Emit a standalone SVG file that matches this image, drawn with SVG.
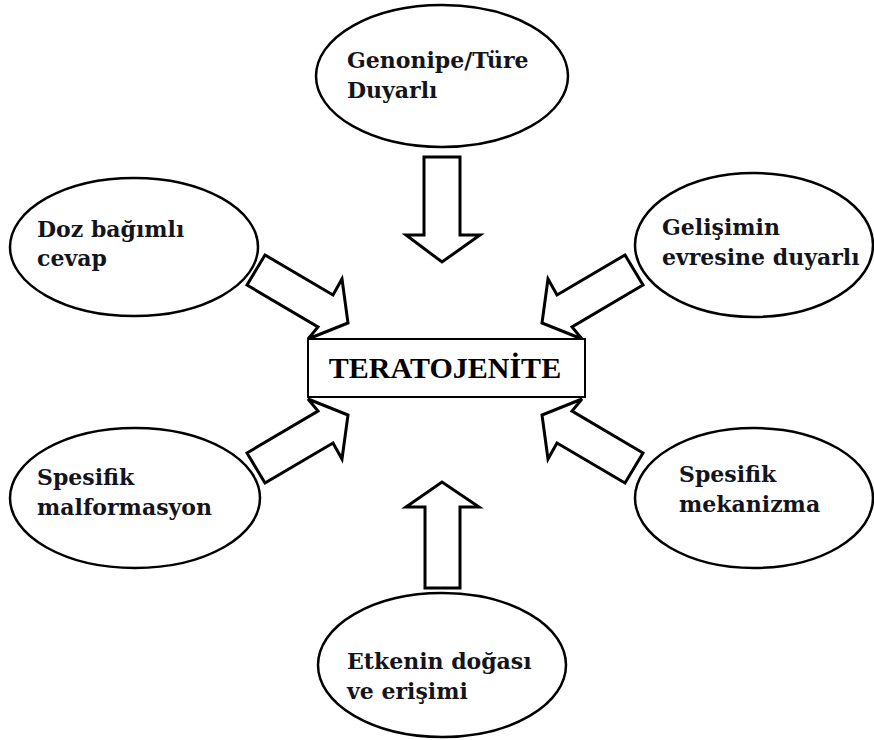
<svg xmlns="http://www.w3.org/2000/svg" width="874" height="740" viewBox="0 0 874 740">
<style>
.ell{fill:#fff;stroke:#000;stroke-width:2.5}
.lbl{font-family:"DejaVu Serif","Liberation Serif",serif;font-weight:bold;font-size:22px;fill:#14141c}
.arr{fill:#fff;stroke:#000;stroke-width:3;stroke-linejoin:miter}
.box{fill:#fff;stroke:#000;stroke-width:2}
.title{font-family:"Liberation Serif","Times New Roman",serif;font-weight:bold;font-size:30px;fill:#000}
</style>
<rect width="874" height="740" fill="#fff"/>
<g id="connectors">
<polygon class="arr" points="424,157 460,157 460,235 480,235 442,262 406,235 424,235"/>
<polygon class="arr" points="425,588 460,588 460,507 479,507 442,482 406,507 425,507"/>
<polygon class="arr" points="265,255 333,295 342,279 348,323 308,339 318,327 247,285"/>
<polygon class="arr" points="625,255 557,295 548,279 542,323 582,339 572,327 643,285"/>
<polygon class="arr" points="265,483 333,443 342,459 348,415 308,399 318,411 247,453"/>
<polygon class="arr" points="625,483 557,443 548,459 542,415 582,399 572,411 643,453"/>
</g>
<g id="center">
<rect class="box" x="308" y="339" width="277" height="58"/>
<text class="title" x="445" y="378" text-anchor="middle">TERATOJENİTE</text>
</g>
<g id="n-top">
<ellipse class="ell" cx="442" cy="76" rx="126" ry="71"/>
<text class="lbl" x="347" y="68">Genonipe/Türe</text>
<text class="lbl" x="347" y="98">Duyarlı</text>
</g>
<g id="n-upleft">
<ellipse class="ell" cx="134" cy="247" rx="124" ry="69"/>
<text class="lbl" x="37" y="237">Doz bağımlı</text>
<text class="lbl" x="37" y="266">cevap</text>
</g>
<g id="n-upright">
<ellipse class="ell" cx="754" cy="245" rx="119" ry="72"/>
<text class="lbl" x="662" y="235">Gelişimin</text>
<text class="lbl" x="662" y="265">evresine duyarlı</text>
</g>
<g id="n-lowleft">
<ellipse class="ell" cx="135" cy="498" rx="125" ry="70"/>
<text class="lbl" x="37" y="485">Spesifik</text>
<text class="lbl" x="37" y="515">malformasyon</text>
</g>
<g id="n-lowright">
<ellipse class="ell" cx="754" cy="498" rx="119" ry="70"/>
<text class="lbl" x="679" y="482">Spesifik</text>
<text class="lbl" x="679" y="512">mekanizma</text>
</g>
<g id="n-bottom">
<ellipse class="ell" cx="442" cy="665" rx="124" ry="72"/>
<text class="lbl" x="347" y="669">Etkenin doğası</text>
<text class="lbl" x="347" y="699">ve erişimi</text>
</g>
</svg>
